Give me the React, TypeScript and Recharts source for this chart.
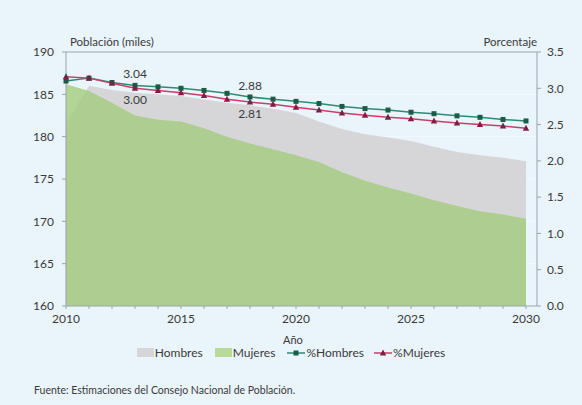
import React from 'react';
import {
  ComposedChart,
  Area,
  Line,
  XAxis,
  YAxis,
  CartesianGrid,
  ReferenceLine,
  LabelList,
} from 'recharts';

const years = [2010, 2011, 2012, 2013, 2014, 2015, 2016, 2017, 2018, 2019, 2020, 2021, 2022, 2023, 2024, 2025, 2026, 2027, 2028, 2029, 2030];
const hombres = [181.5, 186.0, 185.5, 185.2, 185.0, 184.8, 184.4, 184.0, 183.7, 183.3, 182.8, 181.8, 180.9, 180.3, 179.9, 179.5, 178.8, 178.2, 177.8, 177.5, 177.1];
const mujeres = [186.2, 185.4, 184.0, 182.5, 182.0, 181.8, 181.0, 180.0, 179.2, 178.5, 177.8, 177.0, 175.8, 174.8, 174.0, 173.3, 172.5, 171.8, 171.2, 170.8, 170.3];
const pctHombres = [3.10, 3.14, 3.08, 3.04, 3.02, 3.00, 2.97, 2.93, 2.88, 2.85, 2.82, 2.79, 2.75, 2.72, 2.70, 2.67, 2.65, 2.62, 2.60, 2.57, 2.55];
const pctMujeres = [3.16, 3.14, 3.07, 3.00, 2.97, 2.94, 2.90, 2.85, 2.81, 2.78, 2.74, 2.70, 2.66, 2.63, 2.60, 2.58, 2.55, 2.52, 2.50, 2.48, 2.45];
const annotatedYears = [2013, 2018];
const leftTicks = [160, 165, 170, 175, 180, 185, 190];
const rightTicks = [0, 0.5, 1, 1.5, 2, 2.5, 3, 3.5];
const legendLabels = ['Hombres', 'Mujeres', '%Hombres', '%Mujeres'];

const data = years.map((y, i) => ({
  year: y,
  hombres: hombres[i],
  mujeres: mujeres[i],
  pctHombres: pctHombres[i],
  pctMujeres: pctMujeres[i],
  hLabel: annotatedYears.includes(y) ? pctHombres[i].toFixed(2) : undefined,
  mLabel: annotatedYears.includes(y) ? pctMujeres[i].toFixed(2) : undefined,
}));

const FONT = 'Lato, "Open Sans", sans-serif';
const TEXT = '#3a3a3a';
const AXIS = '#9aa3ab';
const GRAY = '#d6d6d8';
const GREEN = '#a3cc7e';
const H_LINE = '#2f8a72';
const H_DOT = '#1a5c44';
const M_LINE = '#cc3d69';
const M_DOT = '#7d1f45';

const SquareDot = (props: any) => {
  const { cx, cy, index } = props;
  if (cx == null || cy == null) return <g key={`s${index}`} />;
  return <rect key={`s${index}`} x={cx - 2.5} y={cy - 2.5} width={5} height={5} fill={H_DOT} />;
};

const TriDot = (props: any) => {
  const { cx, cy, index } = props;
  if (cx == null || cy == null) return <g key={`t${index}`} />;
  return (
    <polygon
      key={`t${index}`}
      points={`${cx},${cy - 3.5} ${cx + 3.2},${cy + 2.5} ${cx - 3.2},${cy + 2.5}`}
      fill={M_DOT}
    />
  );
};

const tickStyle = { fill: TEXT, fontSize: 12, fontFamily: FONT };

export default function App() {
  return (
    <div
      style={{
        position: 'absolute',
        left: 0,
        top: 0,
        width: 582,
        height: 405,
        background: '#eaf4fb',
        fontFamily: FONT,
        color: TEXT,
        overflow: 'hidden',
      }}
    >
      <ComposedChart
        width={582}
        height={405}
        data={data}
        margin={{ top: 52, right: 5, left: 26, bottom: 79 }}
      >
        <CartesianGrid yAxisId="left" horizontal vertical={false} stroke="#f4f9fd" />
        <XAxis
          dataKey="year"
          type="number"
          domain={[2010, 2030]}
          ticks={years}
          interval={0}
          padding={{ left: 0, right: 11 }}
          tickFormatter={(v: number) => (v % 5 === 0 ? String(v) : '')}
          tick={tickStyle}
          tickSize={3}
          tickMargin={5}
          stroke={AXIS}
          height={20}
        />
        <YAxis
          yAxisId="left"
          domain={[160, 190]}
          ticks={leftTicks}
          interval={0}
          tick={tickStyle}
          tickSize={4}
          tickMargin={8}
          stroke={AXIS}
          width={40}
        />
        <YAxis
          yAxisId="right"
          orientation="right"
          domain={[0, 3.5]}
          ticks={rightTicks}
          interval={0}
          tickFormatter={(v: number) => v.toFixed(1)}
          tick={tickStyle}
          tickSize={4}
          tickMargin={6}
          stroke={AXIS}
          width={40}
        />
        <ReferenceLine yAxisId="left" y={190} stroke={AXIS} />
        <Area
          yAxisId="left"
          type="linear"
          dataKey="hombres"
          name="Hombres"
          fill={GRAY}
          fillOpacity={1}
          stroke="none"
          isAnimationActive={false}
        />
        <Area
          yAxisId="left"
          type="linear"
          dataKey="mujeres"
          name="Mujeres"
          fill={GREEN}
          fillOpacity={0.8}
          stroke="none"
          isAnimationActive={false}
        />
        <Line
          yAxisId="right"
          type="linear"
          dataKey="pctHombres"
          name="%Hombres"
          stroke={H_LINE}
          strokeWidth={1.5}
          dot={SquareDot}
          activeDot={false}
          isAnimationActive={false}
        >
          <LabelList dataKey="hLabel" position="top" offset={7} fill={TEXT} fontSize={12} fontFamily={FONT} />
        </Line>
        <Line
          yAxisId="right"
          type="linear"
          dataKey="pctMujeres"
          name="%Mujeres"
          stroke={M_LINE}
          strokeWidth={1.5}
          dot={TriDot}
          activeDot={false}
          isAnimationActive={false}
        >
          <LabelList dataKey="mLabel" position="bottom" offset={7} fill={TEXT} fontSize={12} fontFamily={FONT} />
        </Line>
      </ComposedChart>

      <div style={{ position: 'absolute', left: 70, top: 35, fontSize: 11.5 }}>Población (miles)</div>
      <div style={{ position: 'absolute', right: 45, top: 35, fontSize: 11.5 }}>Porcentaje</div>
      <div style={{ position: 'absolute', left: 283, top: 333, fontSize: 11 }}>Año</div>

      <div
        style={{
          position: 'absolute',
          left: 0,
          width: 582,
          top: 345,
          display: 'flex',
          justifyContent: 'center',
          alignItems: 'center',
          fontSize: 12,
          paddingLeft: 0,
        }}
      >
        <div style={{ display: 'flex', alignItems: 'center', marginRight: 12 }}>
          <span style={{ display: 'inline-block', width: 17, height: 9, background: GRAY, marginRight: 1 }} />
          <span>{legendLabels[0]}</span>
        </div>
        <div style={{ display: 'flex', alignItems: 'center', marginRight: 12 }}>
          <span style={{ display: 'inline-block', width: 17, height: 9, background: '#b9d99a', marginRight: 1 }} />
          <span>{legendLabels[1]}</span>
        </div>
        <div style={{ display: 'flex', alignItems: 'center', marginRight: 10 }}>
          <svg width={18} height={10} style={{ marginRight: 1 }}>
            <line x1={0} y1={5} x2={18} y2={5} stroke={H_LINE} strokeWidth={1.5} />
            <rect x={6.5} y={2.5} width={5} height={5} fill={H_DOT} />
          </svg>
          <span>{legendLabels[2]}</span>
        </div>
        <div style={{ display: 'flex', alignItems: 'center' }}>
          <svg width={18} height={10} style={{ marginRight: 1 }}>
            <line x1={0} y1={5} x2={18} y2={5} stroke={M_LINE} strokeWidth={1.5} />
            <polygon points="9,1.5 12.2,7.5 5.8,7.5" fill={M_DOT} />
          </svg>
          <span>{legendLabels[3]}</span>
        </div>
      </div>

      <div style={{ position: 'absolute', left: 34, top: 384, fontSize: 10.5 }}>
        Fuente: Estimaciones del Consejo Nacional de Población.
      </div>
    </div>
  );
}
